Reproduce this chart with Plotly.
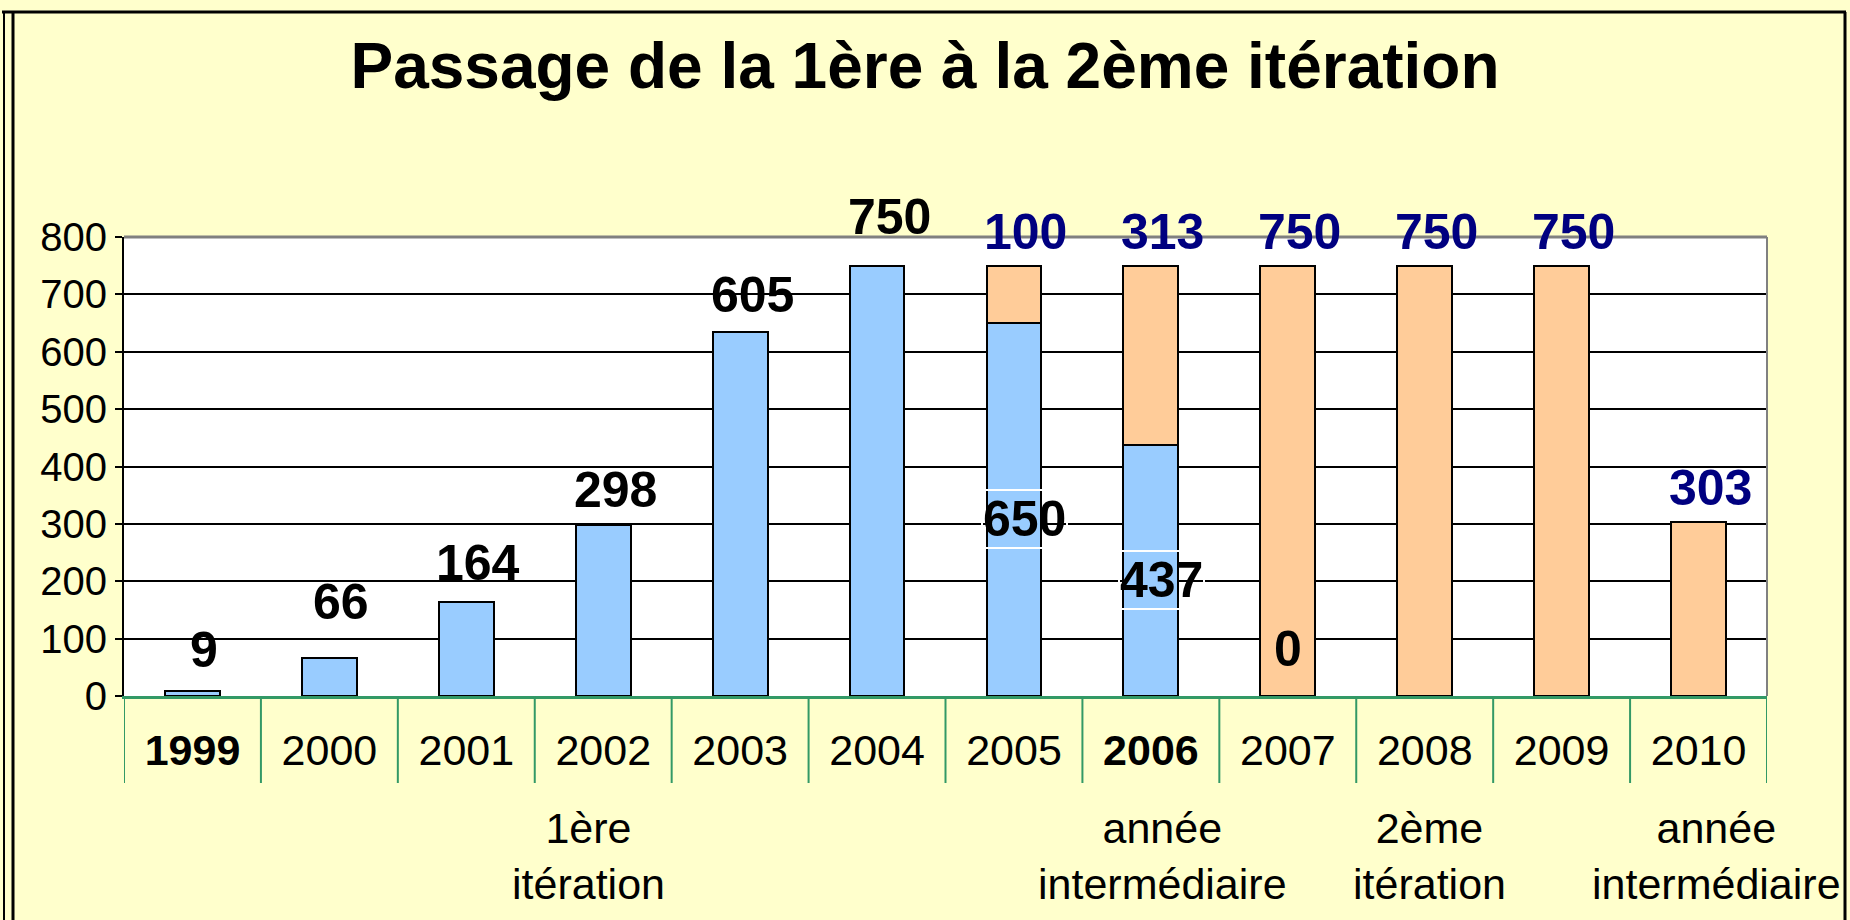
import plotly.graph_objects as go

# ---------------- data ----------------
years = ["1999", "2000", "2001", "2002", "2003", "2004", "2005", "2006", "2007", "2008", "2009", "2010"]
bold_years = ["1999", "2006"]
first_iter = [9, 66, 164, 298, 634, 750, 650, 437, 0, 0, 0, 0]          # blue series (bar heights read)
second_iter = [0, 0, 0, 0, 0, 0, 100, 313, 750, 750, 750, 303]         # orange series
first_labels = ["9", "66", "164", "298", "605", "750", "650", "437", "0", "", "", ""]
second_labels = ["", "", "", "", "", "", "100", "313", "750", "750", "750", "303"]
sub_labels = {"2002": "1ère<br>itération",
              "2006": "année<br>intermédiaire",
              "2008": "2ème<br>itération",
              "2010": "année<br>intermédiaire"}
title_text = "Passage de la 1ère à la 2ème itération"

# ---------------- style ----------------
W, H = 1850, 920
PL, PR, PT, PB = 124, 1767, 237, 696     # plot area in pixels
FONT = "Arial, Liberation Sans, sans-serif"
BLUE, ORANGE, NAVY, GREEN = "#99CCFF", "#FFCC99", "#000080", "#339966"
lift_first = [41, 56, 39, 35, 37, 49]    # pixel lift of outside labels above bar top
sub_shift = {"2002": -15, "2006": 12, "2008": 5, "2010": 18}

def px_x(p):
    return (p - PL) / (PR - PL)

def px_y(p):
    return (PB - p) / (PB - PT)

pos = list(range(len(years)))
ticktext = [f"<b>{y}</b>" if y in bold_years else y for y in years]

fig = go.Figure()
fig.add_trace(go.Bar(x=pos, y=first_iter, marker=dict(color=BLUE, line=dict(color="black", width=2)),
                     name="1ère itération", customdata=years,
                     hovertemplate="%{customdata}: %{y}<extra></extra>"))
fig.add_trace(go.Bar(x=pos, y=second_iter, marker=dict(color=ORANGE, line=dict(color="black", width=2)),
                     name="2ème itération", customdata=years,
                     hovertemplate="%{customdata}: %{y}<extra></extra>"))

annotations = []
for i in pos:
    v1, v2 = first_iter[i], second_iter[i]
    t1, t2 = first_labels[i], second_labels[i]
    if t1:
        if v2 == 0 and i < len(lift_first):
            annotations.append(dict(x=i, y=v1, xref="x", yref="y", text=f"<b>{t1}</b>", showarrow=False,
                                    yanchor="middle", yshift=lift_first[i], xshift=12,
                                    font=dict(family=FONT, size=50, color="black")))
        elif v1 > 0:
            annotations.append(dict(x=i, y=v1 / 2, xref="x", yref="y", text=f"<b>{t1}</b>", showarrow=False,
                                    yanchor="middle", yshift=-9, xshift=11, borderpad=0,
                                    bordercolor="white", borderwidth=2,
                                    font=dict(family=FONT, size=50, color="black")))
        else:
            annotations.append(dict(x=i, y=v1, xref="x", yref="y", text=f"<b>{t1}</b>", showarrow=False,
                                    yanchor="middle", yshift=47, xshift=0,
                                    font=dict(family=FONT, size=50, color="black")))
    if t2:
        annotations.append(dict(x=i, y=v1 + v2, xref="x", yref="y", text=f"<b>{t2}</b>", showarrow=False,
                                yanchor="middle", yshift=34, xshift=12,
                                font=dict(family=FONT, size=50, color=NAVY)))

for y, txt in sub_labels.items():
    annotations.append(dict(x=years.index(y), y=px_y(856), xref="x", yref="paper", text=txt, showarrow=False,
                            yanchor="middle", xanchor="center", xshift=sub_shift.get(y, 0),
                            font=dict(family=FONT, size=43, color="black")))

shapes = []
# category dividers below the axis
for k in range(len(years) + 1):
    shapes.append(dict(type="line", xref="x", yref="paper", x0=k - 0.5, x1=k - 0.5,
                       y0=0, y1=px_y(783), line=dict(color=GREEN, width=2)))
# plot-area top and right border (grey)
shapes.append(dict(type="line", xref="paper", yref="paper", x0=0, x1=1, y0=1, y1=1,
                   line=dict(color="#808080", width=3), layer="above"))
shapes.append(dict(type="line", xref="paper", yref="paper", x0=1, x1=1, y0=0, y1=1,
                   line=dict(color="#808080", width=2), layer="above"))
# chart frame
shapes.append(dict(type="line", xref="paper", yref="paper", x0=px_x(2), x1=px_x(1846), y0=px_y(12), y1=px_y(12),
                   line=dict(color="black", width=3)))
shapes.append(dict(type="line", xref="paper", yref="paper", x0=px_x(1845), x1=px_x(1845), y0=px_y(12), y1=px_y(925),
                   line=dict(color="black", width=3)))
shapes.append(dict(type="line", xref="paper", yref="paper", x0=px_x(4), x1=px_x(4), y0=px_y(12), y1=px_y(925),
                   line=dict(color="black", width=2)))
shapes.append(dict(type="line", xref="paper", yref="paper", x0=px_x(13), x1=px_x(13), y0=px_y(12), y1=px_y(925),
                   line=dict(color="black", width=3)))

fig.update_layout(
    width=W, height=H,
    margin=dict(l=PL, r=W - PR, t=PT, b=H - PB, pad=0),
    paper_bgcolor="#FFFFCC", plot_bgcolor="white",
    barmode="stack", bargap=0.6, showlegend=False,
    font=dict(family=FONT, color="black"),
    title=dict(text=f"<b>{title_text}</b>", x=0.5, xref="container", xanchor="center",
               y=1 - 66 / H, yref="container", yanchor="middle",
               font=dict(family=FONT, size=64, color="black")),
    xaxis=dict(range=[-0.5, len(years) - 0.5], tickmode="array", tickvals=pos, ticktext=ticktext,
               showgrid=False, zeroline=False, showline=True, linecolor=GREEN, linewidth=3, ticks="",
               tickfont=dict(family=FONT, size=43, color="black"), ticklabelstandoff=14,
               fixedrange=True),
    yaxis=dict(range=[0, 800], dtick=100, showgrid=True, gridcolor="black", gridwidth=2,
               showline=True, linecolor="black", linewidth=2, ticks="outside", ticklen=7,
               tickcolor="black", tickwidth=2, zeroline=False,
               tickfont=dict(family=FONT, size=40, color="black"), fixedrange=True),
    annotations=annotations, shapes=shapes,
)

fig.write_html("out.html", config={"displayModeBar": False},
               post_script="document.body.style.margin='0';document.body.style.overflow='hidden';")
